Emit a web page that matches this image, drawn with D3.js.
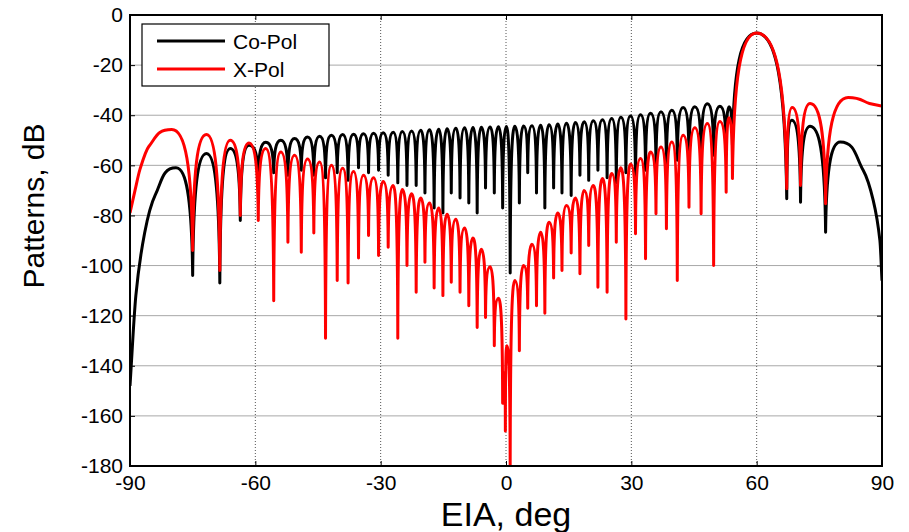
<!DOCTYPE html>
<html lang="en">
<head>
<meta charset="UTF-8">
<title>patterns</title>
<script src="https://d3js.org/d3.v7.min.js"></script>
<style>
  body { margin: 0; background: #fff; }
  text { font-family: "Liberation Sans", Arial, sans-serif; }
</style>
</head>
<body>
<svg width="909" height="532"></svg>
<script>
// null angles shared by both patterns (deg)
const nullDeg = [-75.0, -68.5, -63.6, -59.3, -55.6, -52.2, -49.0, -46.0, -43.2, -40.4, -37.8, -35.3, -32.9, -30.5, -28.2, -25.9, -23.7, -21.5, -19.4, -17.2, -15.1, -13.1, -11.0, -8.9, -6.9, -4.9, -2.8, -0.8, 1.0, 3.2, 5.2, 7.3, 9.3, 11.4, 13.4, 15.6, 17.7, 19.8, 22.0, 24.2, 26.4, 28.7, 31.0, 33.4, 35.9, 38.4, 41.0, 43.8, 46.7, 49.7, 52.7, 54.2];
// sidelobe tops, one between each pair of nulls
const lobeDeg = [-71.7, -66.0, -61.5, -57.5, -53.9, -50.6, -47.5, -44.6, -41.8, -39.1, -36.5, -34.1, -31.7, -29.4, -27.0, -24.8, -22.6, -20.4, -18.3, -16.1, -14.1, -12.0, -9.9, -7.9, -5.9, -3.8, -1.8, 0.1, 2.1, 4.2, 6.2, 8.3, 10.3, 12.4, 14.5, 16.6, 18.7, 20.9, 23.1, 25.3, 27.5, 29.8, 32.2, 34.6, 37.1, 39.7, 42.4, 45.2, 48.2, 51.2, 53.4];

// Co-Pol
const coNullDb = [-104, -107, -82, -65, -63, -64, -62, -64, -65, -63, -66, -61, -63, -62, -64, -67, -68, -68, -71, -77, -79, -71, -73, -75, -79, -69, -71, -77, -103, -75, -63, -71, -77, -69, -71, -72, -64, -66, -62, -65, -67, -63, -66, -62, -60, -60, -58, -57, -58, -56, -55, -52];
const coLobeDb = [-55.3, -53.3, -52, -50.8, -50, -49.3, -48.7, -48.4, -48, -47.7, -47.6, -47.4, -47.2, -47, -46.8, -46.5, -46.3, -46, -45.8, -45.6, -45.4, -45.2, -45, -44.9, -44.8, -44.7, -44.6, -44.5, -44.4, -44.3, -44.2, -44, -43.8, -43.5, -43.2, -42.9, -42.6, -42.2, -41.8, -41.3, -40.8, -40.3, -39.8, -39.2, -38.6, -38, -36.9, -36.6, -35.4, -36.4, -36.6];
const coLeft = [[-90, -148], [-88.6, -112], [-86.5, -87], [-84, -72], [-79, -61]];
const coRight = [[60, -7.2], [67.2, -73.3], [68.4, -42], [70.5, -74.7], [72.8, -44.4], [76.5, -86.7], [80, -50.7], [85.5, -62], [87.9, -74], [89.5, -90], [90, -106]];

// X-Pol
const xpNullDb = [-94, -102, -80, -82, -114, -90.7, -94.7, -87, -129, -106, -107, -97, -88, -96, -92.7, -129, -100, -110.7, -98.7, -109, -112, -106.7, -110.7, -116, -124.7, -120.7, -132, -155, -180, -134, -117, -116, -119, -105, -102, -95, -103.3, -92, -108.7, -110.7, -90.7, -121.3, -87.3, -97.3, -79.3, -85.3, -106, -76.7, -79.3, -100, -70.7, -65.3];
const xpLobeDb = [-47.7, -50, -51.1, -53.3, -54.7, -56, -57.5, -58.7, -60, -61.2, -62.5, -64, -65, -66.5, -68, -69.6, -71.3, -73, -75, -77, -79.5, -81.5, -85, -89, -93.5, -100.5, -113, null, -106, -100, -91.5, -86.7, -82.7, -79, -76, -73, -70, -68, -65.3, -63.3, -61, -59.5, -57.3, -54.7, -52.7, -50.7, -48, -45, -43.3, -42.5, -41];
const xpCentre = [[-0.45, -143], [-0.15, -166], [0.2, -132]]; // ragged lobe at broadside
const xpLeft = [[-90, -79], [-88.8, -70], [-87.6, -61.5], [-85.5, -52.5], [-80, -45.7]];
const xpRight = [[60, -7.2], [67.2, -69.3], [68.5, -36.9], [70.5, -68], [72.8, -35.3], [76.5, -75.3], [81.9, -32.9], [87, -35.3], [90, -36.3]];

const xTicks = [-90, -60, -30, 0, 30, 60, 90];
const yTicks = [0, -20, -40, -60, -80, -100, -120, -140, -160, -180];

const marge = {top: 15, right: 27, bottom: 66, left: 130};
const width = 909, height = 532;
const innerW = width - marge.left - marge.right;
const innerH = height - marge.top - marge.bottom;

const x = d3.scaleLinear().domain([-90, 90]).range([marge.left, marge.left + innerW]);
const y = d3.scaleLinear().domain([-180, 0]).range([marge.top + innerH, marge.top]);

const svg = d3.select("svg");

// interleave nulls and lobe tops into one list of points
function buildSeries(left, nullDb, lobeDb, centre, right) {
    const pts = left.slice();
    nullDeg.forEach(function(d, i) {
        pts.push([d, nullDb[i]]);
        if (i < lobeDeg.length) {
            if (lobeDb[i] === null) centre.forEach(p => pts.push(p));
            else pts.push([lobeDeg[i], lobeDb[i]]);
        }
    });
    return pts.concat(right);
}

// curve for dB patterns: sharp spikes at nulls, rounded lobe tops
function lobeCurve(context) {
    let pts;
    return {
        areaStart() {}, areaEnd() {},
        lineStart() { pts = []; },
        point(px, py) { pts.push([+px, +py]); },
        lineEnd() {
            const n = pts.length;
            if (!n) return;
            const kind = pts.map(function(p, i) {
                if (i === 0 || i === n - 1) return "end";
                const a = pts[i - 1][1], b = pts[i + 1][1];
                if (p[1] < a && p[1] < b) return "top";
                if (p[1] > a && p[1] > b) return "null";
                return "mid";
            });
            const slope = pts.map(function(p, i) {
                const a = pts[Math.max(0, i - 1)], b = pts[Math.min(n - 1, i + 1)];
                return (b[1] - a[1]) / (b[0] - a[0]);
            });
            context.moveTo(pts[0][0], pts[0][1]);
            for (let i = 1; i < n; i++) {
                const [x0, y0] = pts[i - 1], [x1, y1] = pts[i], dx = x1 - x0;
                let c1, c2;
                if (kind[i - 1] === "top") c1 = [x0 + 0.65 * dx, y0];
                else if (kind[i - 1] === "null") c1 = [x0 + 0.05 * dx, y0 + 0.7 * (y1 - y0)];
                else c1 = [x0 + dx / 3, y0 + slope[i - 1] * dx / 3];
                if (kind[i] === "top") c2 = [x1 - 0.65 * dx, y1];
                else if (kind[i] === "null") c2 = [x1 - 0.05 * dx, y1 + 0.7 * (y0 - y1)];
                else c2 = [x1 - dx / 3, y1 - slope[i] * dx / 3];
                context.bezierCurveTo(c1[0], c1[1], c2[0], c2[1], x1, y1);
            }
        }
    };
}

// grid
svg.append("g").selectAll("line")
    .data(yTicks.slice(1, -1))
    .enter().append("line")
    .attr("x1", x(-90)).attr("x2", x(90))
    .attr("y1", d => y(d)).attr("y2", d => y(d))
    .attr("stroke", "#a8a8a8").attr("stroke-width", 1);
svg.append("g").selectAll("line")
    .data(xTicks.slice(1, -1))
    .enter().append("line")
    .attr("x1", d => x(d)).attr("x2", d => x(d))
    .attr("y1", y(0)).attr("y2", y(-180))
    .attr("stroke", "#555").attr("stroke-width", 1)
    .attr("stroke-dasharray", "1,2");

// curves
svg.append("clipPath").attr("id", "clip")
    .append("rect").attr("x", marge.left).attr("y", marge.top)
    .attr("width", innerW).attr("height", innerH);

const line = d3.line()
    .x(d => x(d[0]))
    .y(d => y(d[1]))
    .curve(lobeCurve);

const series = [
    {name: "Co-Pol", color: "#000000", pts: buildSeries(coLeft, coNullDb, coLobeDb, null, coRight)},
    {name: "X-Pol", color: "#ff0000", pts: buildSeries(xpLeft, xpNullDb, xpLobeDb, xpCentre, xpRight)}
];

svg.append("g").attr("clip-path", "url(#clip)")
    .selectAll("path")
    .data(series)
    .enter().append("path")
    .attr("d", d => line(d.pts))
    .attr("fill", "none")
    .attr("stroke", d => d.color)
    .attr("stroke-width", 3)
    .attr("stroke-linejoin", "round");

// axes, ticks pointing inwards
function styleAxis(g) {
    g.select(".domain").remove();
    g.selectAll(".tick line").attr("stroke", "#000");
    g.selectAll("text").attr("font-size", 21).attr("fill", "#000")
        .attr("font-family", "'Liberation Sans', Arial, sans-serif");
}
svg.append("g").attr("transform", "translate(0," + y(-180) + ")")
    .call(d3.axisBottom(x).tickValues(xTicks).tickFormat(d => String(d)).tickSize(-5).tickPadding(9))
    .call(styleAxis);
svg.append("g").attr("transform", "translate(0," + y(0) + ")")
    .call(d3.axisTop(x).tickValues(xTicks).tickFormat("").tickSize(-5))
    .call(styleAxis);
svg.append("g").attr("transform", "translate(" + x(-90) + ",0)")
    .call(d3.axisLeft(y).tickValues(yTicks).tickFormat(d => String(d)).tickSize(-5).tickPadding(7))
    .call(styleAxis);
svg.append("g").attr("transform", "translate(" + x(90) + ",0)")
    .call(d3.axisRight(y).tickValues(yTicks).tickFormat("").tickSize(-5))
    .call(styleAxis);

svg.append("rect")
    .attr("x", marge.left).attr("y", marge.top)
    .attr("width", innerW).attr("height", innerH)
    .attr("fill", "none").attr("stroke", "#000").attr("stroke-width", 2);

// axis titles
svg.append("text")
    .attr("x", marge.left + innerW / 2).attr("y", 526)
    .attr("text-anchor", "middle").attr("font-size", 34)
    .text("EIA, deg");
svg.append("text")
    .attr("transform", "translate(44,206) rotate(-90)")
    .attr("text-anchor", "middle").attr("font-size", 30)
    .text("Patterns, dB");

// legend
const legend = svg.append("g");
legend.append("rect")
    .attr("x", 142).attr("y", 24).attr("width", 187).attr("height", 62)
    .attr("fill", "#fff").attr("stroke", "#000").attr("stroke-width", 1.2);
const item = legend.selectAll(".item")
    .data(series)
    .enter().append("g")
    .attr("transform", (d, i) => "translate(0," + (41 + i * 28) + ")");
item.append("line")
    .attr("x1", 157).attr("x2", 225)
    .attr("stroke", d => d.color).attr("stroke-width", 3);
item.append("text")
    .attr("x", 233).attr("y", 8)
    .attr("font-size", 21)
    .text(d => d.name);
</script>
</body>
</html>
